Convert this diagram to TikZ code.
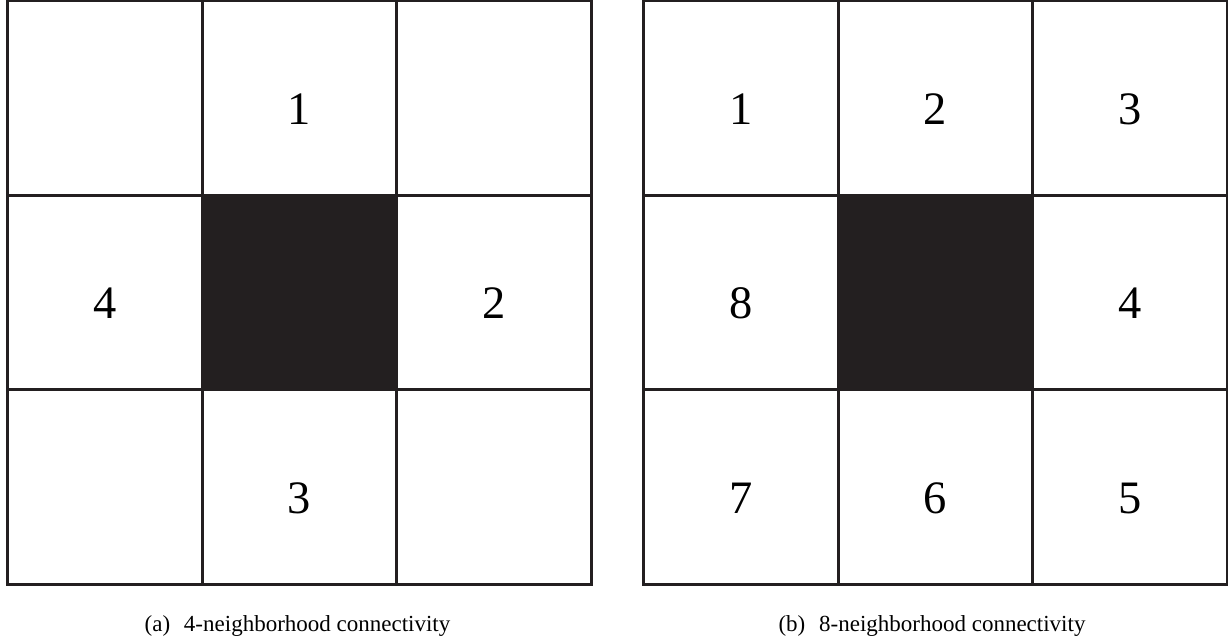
\documentclass[tikz,border=0pt]{standalone}
\usepackage{fontspec}
\setmainfont{Liberation Serif}
\usetikzlibrary{positioning}
\definecolor{ink}{HTML}{231F20}

\begin{document}
\begin{tikzpicture}[x=1pt,y=-1pt,
      c/.style={rectangle,draw=ink,line width=3pt,minimum size=194.5pt,inner sep=0pt,
        text height=52pt,text depth=0pt,font=\fontsize{46.5}{50}\selectfont},
      h/.style={c,fill=ink},
      subcap/.style={anchor=base,inner sep=0pt,font=\fontsize{23}{27}\selectfont}]
    \useasboundingbox (0,0) rectangle (1228,640);
    % (a) 4-neighborhood
    \node[c] (a11) at (104.75,98) {};
    \node[c] (a12) at (299.25,98) {1};
    \node[c] (a13) at (493.75,98) {};
    \node[c] (a21) at (104.75,292.5) {4};
    \node[h] (a22) at (299.25,292.5) {};
    \node[c] (a23) at (493.75,292.5) {2};
    \node[c] (a31) at (104.75,487) {};
    \node[c] (a32) at (299.25,487) {3};
    \node[c] (a33) at (493.75,487) {};
    % (b) 8-neighborhood
    \node[c] (b11) at (740.75,98) {1};
    \node[c] (b12) at (935.25,98) {2};
    \node[c] (b13) at (1129.75,98) {3};
    \node[c] (b21) at (740.75,292.5) {8};
    \node[h] (b22) at (935.25,292.5) {};
    \node[c] (b23) at (1129.75,292.5) {4};
    \node[c] (b31) at (740.75,487) {7};
    \node[c] (b32) at (935.25,487) {6};
    \node[c] (b33) at (1129.75,487) {5};
    % captions
    \node[subcap] (capa) at (297.5,631) {(a)\hspace{0.6em}4-neighborhood connectivity};
    \node[subcap] (capb) at (932,631) {(b)\hspace{0.6em}8-neighborhood connectivity};
  \end{tikzpicture}
\end{document}
